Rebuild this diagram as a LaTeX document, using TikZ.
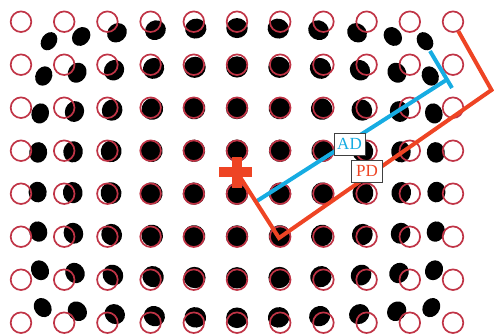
\documentclass[tikz,border=0pt]{standalone}
\usepackage{fontspec}
\setmainfont{Liberation Serif}

\definecolor{ringred}{RGB}{192,52,70}
\definecolor{pdorange}{RGB}{238,68,36}
\definecolor{adblue}{RGB}{22,172,226}

\tikzset{
  ring/.style={draw=ringred,line width=1.7pt},
  adline/.style={draw=adblue,line width=4pt},
  pdline/.style={draw=pdorange,line width=4pt},
  lbl/.style={draw=black!75,fill=white,line width=0.9pt,inner sep=0pt,
    minimum width=31pt,minimum height=22pt,font=\fontsize{17}{17}\selectfont}
}

\begin{document}
\begin{tikzpicture}[x=1pt,y=1pt]
\useasboundingbox (0,0) rectangle (494,-335);
% dots as the lens sees them
\foreach \i in {0,...,10} {
  \foreach \j in {0,...,7} {
    \pgfmathsetmacro{\du}{(21+43.2*\i-237)/100}
    \pgfmathsetmacro{\dv}{(172.2-21.7-43*\j)/100}
    \pgfmathsetmacro{\rr}{\du*\du+\dv*\dv}
    \pgfmathsetmacro{\kk}{0.0166+0.0014*\dv}
    \pgfmathsetmacro{\ff}{1-\kk*\rr}
    \pgfmathsetmacro{\ang}{atan2(\dv,\du)}
    \fill (237+100*\ff*\du,-172.2+100*\ff*\dv)
      circle[x radius={11.2*(1-2.5*\kk*\rr)},y radius={11.2*\ff},rotate=\ang];
  }
}
% true grid
\foreach \i in {0,...,10} {
  \foreach \j in {0,...,7} {\draw[ring] (21+43.2*\i,-21.7-43*\j) circle[radius=10.3];}
}
\coordinate (ctr) at (237,-172.2);
\coordinate (corner) at (453,-21.7);
% actual distance
\coordinate (adstart) at (257,-201);
\coordinate (adend) at (445.5,-80.5);
\coordinate (adtop) at (430,-51);
\coordinate (adbot) at (452,-88);
\draw[adline] (adstart) -- (adend);
\draw[adline] (adtop) -- (adbot);
% paraxial distance
\coordinate (pdlow) at (279,-238);
\coordinate (pdhigh) at (491.5,-90);
\draw[pdline,shorten >=11pt] (ctr) -- (pdlow) -- (pdhigh) -- (corner);
\fill[pdorange] (219,-167.3) rectangle (251.5,-177.3);
\fill[pdorange] (232.2,-157) rectangle (241.8,-188);
\node[lbl,text=adblue] (ad) at (349.5,-144) {AD};
\node[lbl,text=pdorange] (pd) at (367,-171) {PD};
\end{tikzpicture}
\end{document}
